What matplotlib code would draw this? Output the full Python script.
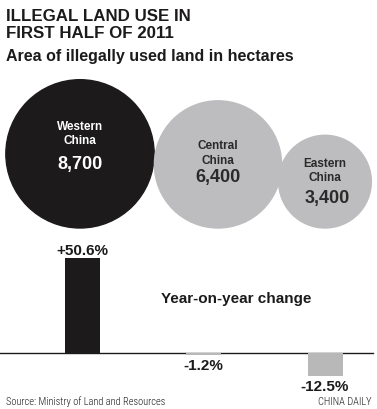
"""
Illegal land use in first half of 2011 - bubble + bar infographic
"""
import matplotlib
matplotlib.use("Agg")
import matplotlib.pyplot as plt
from matplotlib.patches import Circle
import numpy as np

REGIONS = ["Western\nChina", "Central\nChina", "Eastern\nChina"]
AREA = [8700, 6400, 3400]           # hectares
CHANGE = [50.6, -1.2, -12.5]        # year-on-year, %
CHANGE_LABELS = ["+50.6%", "-1.2%", "-12.5%"]

BLACK = "#1c1a1b"
GRAY = "#bdbdbf"
BAR_GRAY = "#b8b8b8"
SANS = ["Liberation Sans", "DejaVu Sans"]
NARROW = ["Roboto Condensed", "DejaVu Sans"]

W, H = 377, 410
fig = plt.figure(figsize=(W / 100, H / 100), dpi=100)

# overlay axes in pixel coordinates
ax = fig.add_axes([0, 0, 1, 1])
ax.set_xlim(0, W)
ax.set_ylim(H, 0)
ax.axis("off")

ax.text(6, 21, "ILLEGAL LAND USE IN", fontsize=12.2, fontweight="bold",
        family=SANS, color=BLACK, va="baseline")
ax.text(6, 38, "FIRST HALF OF 2011", fontsize=12.2, fontweight="bold",
        family=SANS, color=BLACK, va="baseline")
ax.text(6, 61, "Area of illegally used land in hectares", fontsize=11.5,
        fontweight="bold", family=SANS, color=BLACK, va="baseline")

# bubbles: area proportional to value, bottoms aligned
radii = 0.795 * np.sqrt(AREA)
centers_x = [80, 218, 325]
bottom = 229
fills = [BLACK, GRAY, GRAY]
txt_cols = ["white", "#2a2a2a", "#2a2a2a"]
name_dy = [-21, -12, -12]
num_dy = [30.5, 24.5, 27.5]
num_dx = [0, 0, 2]
for i, (r, cx) in enumerate(zip(radii, centers_x)):
    cy = bottom - r
    ax.add_patch(Circle((cx, cy), r, color=fills[i], zorder=1 + i))
    name_y = cy + name_dy[i]
    ax.text(cx, name_y, REGIONS[i], ha="center", va="center", fontsize=8.5,
            fontweight="bold", family=SANS, color=txt_cols[i],
            linespacing=1.25, zorder=10)
    ax.text(cx + num_dx[i], name_y + num_dy[i], f"{AREA[i]:,}", ha="center",
            va="center", fontsize=13, fontweight="bold", family=SANS,
            color=txt_cols[i], zorder=10)

ax.text(236, 299, "Year-on-year change", ha="center", va="center",
        fontsize=11, fontweight="bold", family=SANS, color=BLACK)
ax.text(6, 402, "Source: Ministry of Land and Resources", fontsize=7.5,
        family=NARROW, fontweight="light", color=BLACK, va="center")
ax.text(371, 402, "CHINA DAILY", fontsize=7.5, family=NARROW,
        fontweight="light", color=BLACK, va="center", ha="right")

# bar chart
ymin, ymax = -20, 55
px_per_unit = 1.87
base_px = 354
ax_h = (ymax - ymin) * px_per_unit
ax_bottom = (H - base_px) + ymin * px_per_unit
axb = fig.add_axes([0, ax_bottom / H, 1, ax_h / H])
axb.patch.set_alpha(0)
x = np.arange(len(CHANGE))
step = 121.5
axb.set_xlim(-82 / step, (W - 82) / step)
axb.set_ylim(ymin, ymax)
axb.axhline(0, xmin=0, xmax=373 / W, color=BLACK, lw=1, zorder=1)
axb.bar(x, CHANGE, width=35 / step, color=[BLACK, BAR_GRAY, BAR_GRAY], zorder=2)
axb.axis("off")
for xi, v, lab in zip(x, CHANGE, CHANGE_LABELS):
    if v > 0:
        axb.text(xi, v + 0.8, lab, ha="center", va="bottom", fontsize=11,
                 fontweight="bold", family=SANS, color=BLACK)
    else:
        axb.text(xi, v - 1.5, lab, ha="center", va="top", fontsize=11,
                 fontweight="bold", family=SANS, color=BLACK)

fig.savefig("out.png", dpi=100)
